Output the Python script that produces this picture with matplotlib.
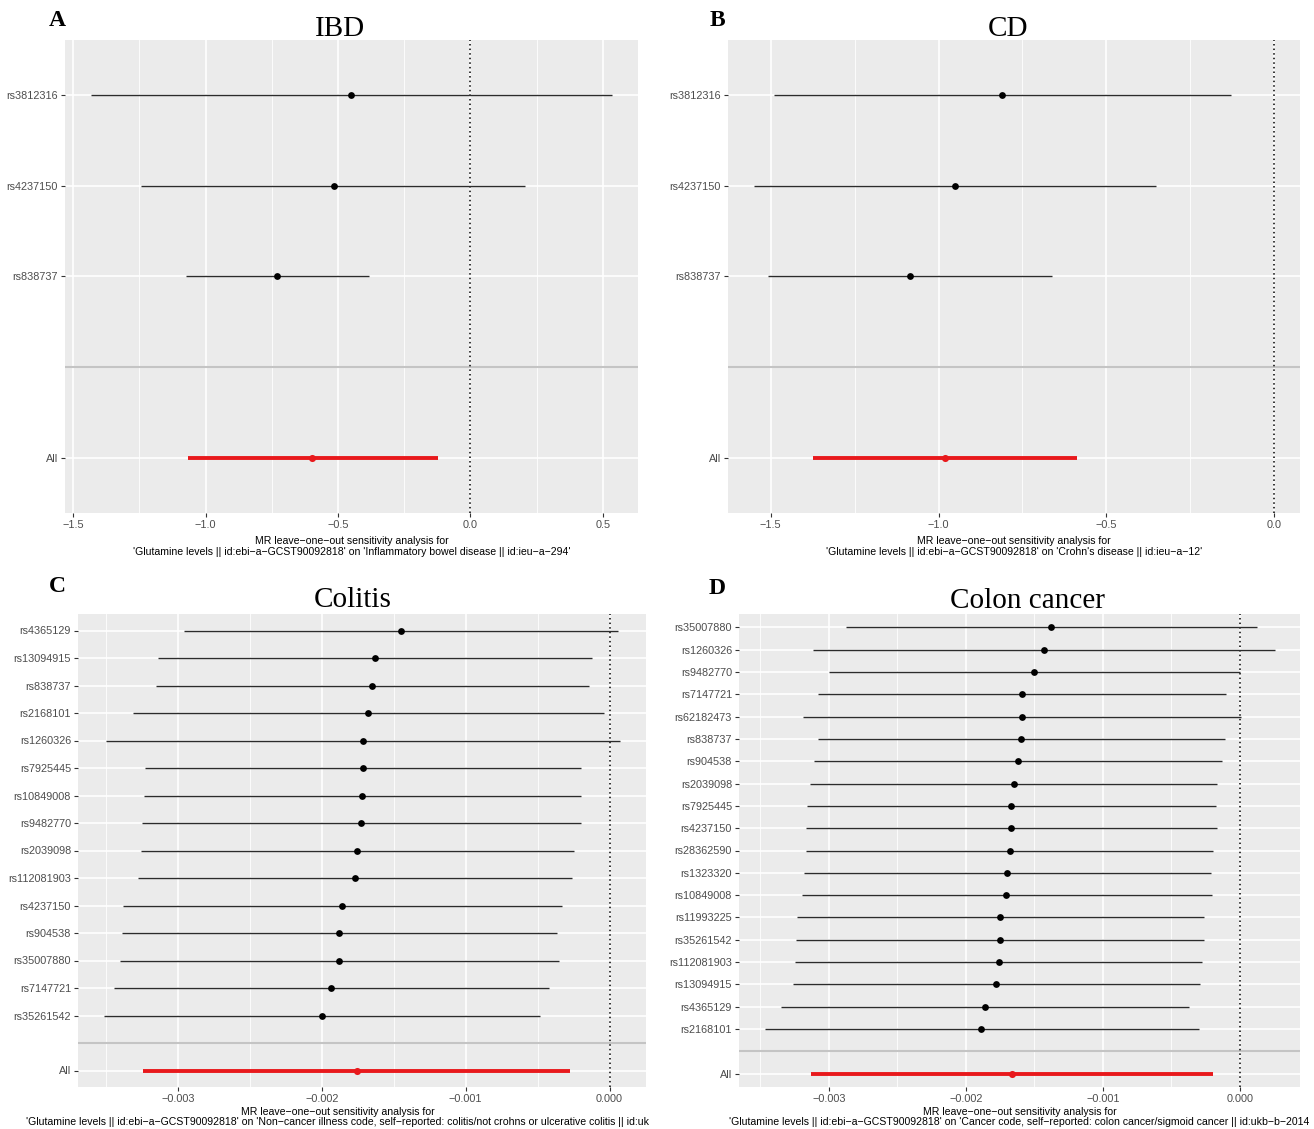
import numpy as np
import matplotlib
matplotlib.use('Agg')
import matplotlib.pyplot as plt
from matplotlib.ticker import FixedLocator, FuncFormatter

# ---- data (effect, lower CI, upper CI), SNPs listed top to bottom ----
ibd_snps = ['rs3812316', 'rs4237150', 'rs838737']
ibd_b = [-0.451, -0.517, -0.730]
ibd_lo = [-1.433, -1.244, -1.076]
ibd_hi = [0.535, 0.208, -0.382]
ibd_all = [-0.597, -1.067, -0.122]

cd_snps = ['rs3812316', 'rs4237150', 'rs838737']
cd_b = [-0.810, -0.952, -1.086]
cd_lo = [-1.491, -1.550, -1.509]
cd_hi = [-0.129, -0.353, -0.661]
cd_all = [-0.980, -1.374, -0.586]

colitis_snps = ['rs4365129', 'rs13094915', 'rs838737', 'rs2168101', 'rs1260326',
                'rs7925445', 'rs10849008', 'rs9482770', 'rs2039098', 'rs112081903',
                'rs4237150', 'rs904538', 'rs35007880', 'rs7147721', 'rs35261542']
colitis_b = [-1.452, -1.630, -1.650, -1.677, -1.716, -1.716, -1.721, -1.727,
             -1.754, -1.769, -1.858, -1.879, -1.881, -1.932, -2.000]
colitis_lo = [-2.954, -3.138, -3.153, -3.310, -3.499, -3.227, -3.233, -3.250,
              -3.256, -3.274, -3.381, -3.390, -3.404, -3.440, -3.514]
colitis_hi = [0.059, -0.124, -0.142, -0.036, 0.074, -0.199, -0.201, -0.201,
              -0.249, -0.264, -0.332, -0.364, -0.353, -0.421, -0.486]
colitis_all = [-1.757, -3.239, -0.273]

cc_snps = ['rs35007880', 'rs1260326', 'rs9482770', 'rs7147721', 'rs62182473',
           'rs838737', 'rs904538', 'rs2039098', 'rs7925445', 'rs4237150',
           'rs28362590', 'rs1323320', 'rs10849008', 'rs11993225', 'rs35261542',
           'rs112081903', 'rs13094915', 'rs4365129', 'rs2168101']
cc_b = [-1.378, -1.433, -1.500, -1.588, -1.591, -1.598, -1.622, -1.652, -1.668,
        -1.668, -1.680, -1.701, -1.704, -1.750, -1.750, -1.759, -1.777, -1.857, -1.887]
cc_lo = [-2.878, -3.119, -3.000, -3.079, -3.192, -3.082, -3.107, -3.137, -3.159,
         -3.168, -3.165, -3.183, -3.195, -3.232, -3.238, -3.247, -3.265, -3.348, -3.470]
cc_hi = [0.125, 0.253, 0.000, -0.098, 0.006, -0.110, -0.128, -0.165, -0.171,
         -0.168, -0.198, -0.213, -0.204, -0.265, -0.259, -0.274, -0.290, -0.369, -0.296]
cc_all = [-1.662, -3.128, -0.195]

# colitis / colon cancer values above are in units of 1e-3
SCALE_SMALL = 1e-3

ibd_xlab = ("MR leave\u2212one\u2212out sensitivity analysis for\n"
            "'Glutamine levels || id:ebi\u2212a\u2212GCST90092818' on "
            "'Inflammatory bowel disease || id:ieu\u2212a\u2212294'")
cd_xlab = ("MR leave\u2212one\u2212out sensitivity analysis for\n"
           "'Glutamine levels || id:ebi\u2212a\u2212GCST90092818' on "
           "'Crohn's disease || id:ieu\u2212a\u221212'")
colitis_xlab = ("MR leave\u2212one\u2212out sensitivity analysis for\n"
                "'Glutamine levels || id:ebi\u2212a\u2212GCST90092818' on "
                "'Non\u2212cancer illness code, self\u2212reported: colitis/not crohns "
                "or ulcerative colitis || id:uk")
cc_xlab = ("MR leave\u2212one\u2212out sensitivity analysis for\n"
           "'Glutamine levels || id:ebi\u2212a\u2212GCST90092818' on "
           "'Cancer code, self\u2212reported: colon cancer/sigmoid cancer || id:ukb\u2212b\u22122014")

SANS = 'Liberation Sans'
SERIF = 'Liberation Serif'
RED = '#E8191C'


def fmt_minus(decimals):
    def f(v, pos):
        s = f'{v:.{decimals}f}'
        if s.startswith('-'):
            s = '\u2212' + s[1:]
        return s
    return FuncFormatter(f)


def leave_one_out(ax, snps, b, lo, hi, allrow, majors, decimals, xlab, scale=1.0):
    b = np.array(b) * scale
    lo = np.array(lo) * scale
    hi = np.array(hi) * scale
    a_b, a_lo, a_hi = np.array(allrow) * scale
    n = len(snps)
    ys = np.arange(n + 2, 2, -1)

    # ggplot-like continuous scale: data range plus 0, 5% expansion
    xmin = min(lo.min(), a_lo, 0)
    xmax = max(hi.max(), a_hi, 0)
    pad = 0.05 * (xmax - xmin)
    ax.set_xlim(xmin - pad, xmax + pad)
    ax.set_ylim(0.4, n + 2.6)

    ax.set_facecolor('#EBEBEB')
    for s in ax.spines.values():
        s.set_visible(False)

    step = majors[1] - majors[0]
    minors = np.arange(majors[0] - step / 2, majors[-1] + step, step)
    for m in minors:
        ax.axvline(m, color='white', lw=0.6, zorder=0)
    for m in majors:
        ax.axvline(m, color='white', lw=1.2, zorder=0)
    for y in range(1, n + 3):
        ax.axhline(y, color='white', lw=1.2, zorder=0)

    ax.axhline(2, color='#C4C4C4', lw=1.5, zorder=1)
    ax.axvline(0, color='black', lw=1.1, ls=(0, (1, 2.0)), zorder=1)

    ax.hlines(ys, lo, hi, color='#2B2B2B', lw=1.0, zorder=2)
    ax.scatter(b, ys, s=24, color='black', zorder=3, linewidths=0)
    ax.hlines([1], [a_lo], [a_hi], color=RED, lw=2.8, zorder=2)
    ax.scatter([a_b], [1], s=26, color=RED, zorder=3, linewidths=0)

    ax.xaxis.set_major_locator(FixedLocator(majors))
    ax.xaxis.set_major_formatter(fmt_minus(decimals))
    ax.set_yticks(list(ys) + [1])
    ax.set_yticklabels(list(snps) + ['All'])
    ax.tick_params(axis='both', color='#333333', length=3, width=0.8,
                   labelcolor='#4D4D4D', labelsize=7.8, pad=2)
    for t in ax.get_xticklabels() + ax.get_yticklabels():
        t.set_family(SANS)
    ax.set_xlabel(xlab, fontsize=7.6, family=SANS, color='black',
                  labelpad=4, linespacing=1.15)


fig = plt.figure(figsize=(13.14, 11.29), dpi=100)
W, H = 1314, 1129


def add_axes(l, t, r, b):
    return fig.add_axes([l / W, 1 - b / H, (r - l) / W, (b - t) / H])


axA = add_axes(65, 40, 638, 513)
axB = add_axes(728, 40, 1300, 513)
axC = add_axes(78, 614, 646, 1087)
axD = add_axes(739, 614, 1300, 1087)

leave_one_out(axA, ibd_snps, ibd_b, ibd_lo, ibd_hi, ibd_all,
              [-1.5, -1.0, -0.5, 0.0, 0.5], 1, ibd_xlab)
leave_one_out(axB, cd_snps, cd_b, cd_lo, cd_hi, cd_all,
              [-1.5, -1.0, -0.5, 0.0], 1, cd_xlab)
leave_one_out(axC, colitis_snps, colitis_b, colitis_lo, colitis_hi, colitis_all,
              [-0.003, -0.002, -0.001, 0.0], 3, colitis_xlab, SCALE_SMALL)
leave_one_out(axD, cc_snps, cc_b, cc_lo, cc_hi, cc_all,
              [-0.003, -0.002, -0.001, 0.0], 3, cc_xlab, SCALE_SMALL)
# bottom row captions sit tight against the figure edge
axC.xaxis.set_label_coords((338 - 78) / (646 - 78), -0.042)
axD.xaxis.set_label_coords(0.5, -0.042)
for ax in (axC, axD):
    ax.xaxis.label.set_linespacing(1.05)

titles = [('IBD', 340, 29), ('CD', 1008, 29), ('Colitis', 353, 600), ('Colon cancer', 1027, 601)]
for txt, x, y in titles:
    fig.text(x / W, 1 - y / H, txt, family=SERIF, fontsize=21,
             ha='center', va='center')
letters = [('A', 57, 20), ('B', 717, 20), ('C', 57, 586), ('D', 717, 588)]
for txt, x, y in letters:
    fig.text(x / W, 1 - y / H, txt, family=SERIF, fontsize=17, fontweight='bold',
             ha='center', va='center')

fig.savefig('out.png', dpi=100, facecolor='white')
